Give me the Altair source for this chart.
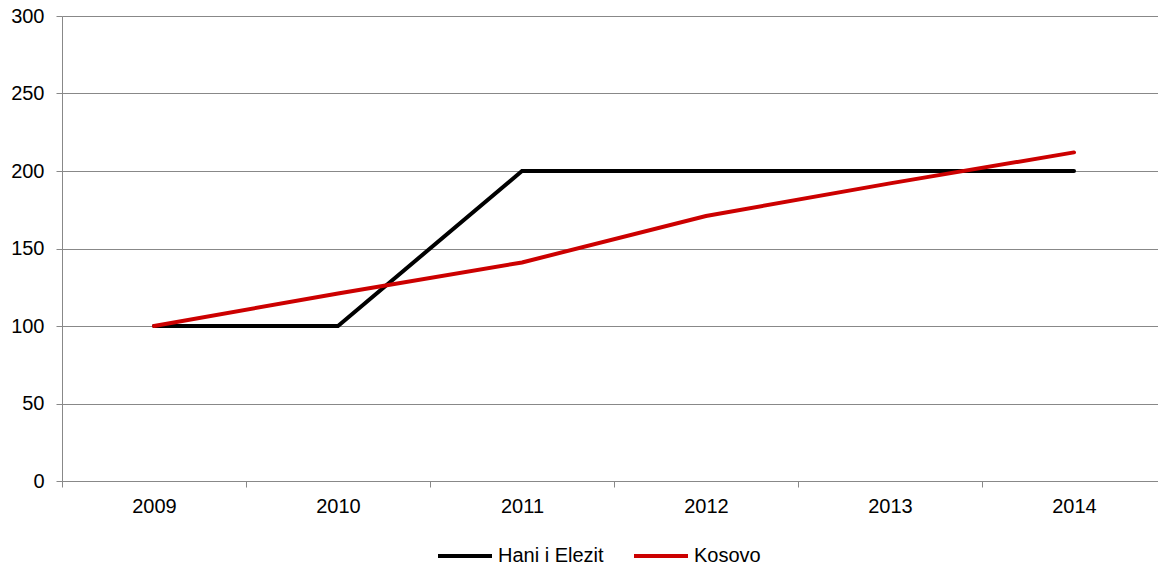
import altair as alt
import pandas as pd

years = ["2009", "2010", "2011", "2012", "2013", "2014"]
hani = [100, 100, 200, 200, 200, 200]
kosovo = [100, 121, 141, 171, 192, 212]
series_names = ["Hani i Elezit", "Kosovo"]
series_colors = ["#000000", "#CC0000"]

rows = []
for i, y in enumerate(years):
    rows.append({"year": y, "value": hani[i], "series": series_names[0], "order": 0})
for i, y in enumerate(years):
    rows.append({"year": y, "value": kosovo[i], "series": series_names[1], "order": 1})
df = pd.DataFrame(rows)

FONT = "Liberation Sans"

chart = alt.Chart(df).mark_line(strokeWidth=4, strokeCap="round", strokeJoin="miter").encode(
    x=alt.X("year:N", sort=years, title=None,
            scale=alt.Scale(paddingInner=0, paddingOuter=0),
            axis=alt.Axis(labelAngle=0, tickBand="extent", grid=False,
                          domainColor="#888888", tickColor="#888888",
                          tickSize=6, labelFontSize=20, labelColor="#000000",
                          labelFont=FONT, labelPadding=9, domainWidth=1)),
    y=alt.Y("value:Q", title=None,
            scale=alt.Scale(domain=[0, 300], nice=False),
            axis=alt.Axis(values=[0, 50, 100, 150, 200, 250, 300],
                          gridColor="#888888", gridWidth=1,
                          domainColor="#888888", tickColor="#888888",
                          tickSize=6, labelFontSize=20, labelColor="#000000",
                          labelFont=FONT, labelPadding=12)),
    color=alt.Color("series:N", sort=series_names,
                    scale=alt.Scale(domain=series_names, range=series_colors),
                    legend=alt.Legend(title=None, orient="none", direction="horizontal",
                                      legendX=374, legendY=511, padding=0,
                                      symbolType="stroke", symbolSize=2916,
                                      symbolStrokeWidth=4, labelFontSize=20,
                                      labelFont=FONT, labelColor="#000000",
                                      columnPadding=22, labelOffset=4)),
    order=alt.Order("order:Q"),
    detail="series:N",
).properties(
    width=1104, height=465,
    autosize=alt.AutoSizeParams(type="none"),
    padding={"left": 54, "top": 8, "right": -8, "bottom": 81},
).configure_view(stroke=None).configure(background="#ffffff")

chart.save("out.html", embed_options={"renderer": "svg", "actions": False})
